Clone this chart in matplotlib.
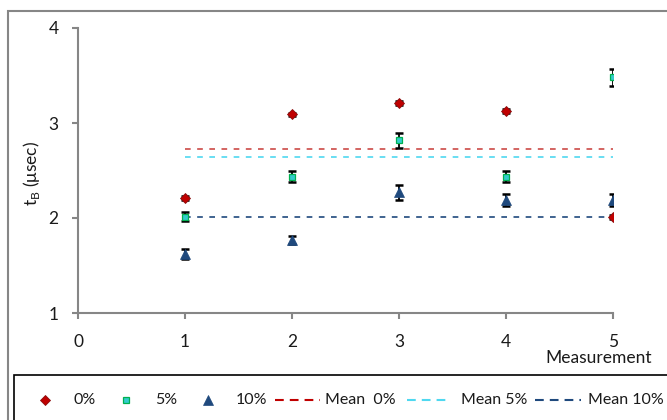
import matplotlib
matplotlib.use("Agg")
import matplotlib.pyplot as plt
from matplotlib.lines import Line2D
from matplotlib.patches import Rectangle
import numpy as np

plt.rcParams['font.family'] = ['Lato', 'DejaVu Sans']
plt.rcParams['mathtext.fontset'] = 'custom'
plt.rcParams['mathtext.rm'] = 'Lato'

measurements = [1, 2, 3, 4, 5]
t0 = [2.21, 3.09, 3.21, 3.13, 2.01]
e0 = [0.02, 0.02, 0.02, 0.02, 0.02]
t5 = [2.015, 2.435, 2.82, 2.435, 3.48]
e5 = [0.05, 0.06, 0.08, 0.06, 0.09]
t10 = [1.62, 1.77, 2.27, 2.19, 2.19]
e10 = [0.05, 0.04, 0.08, 0.06, 0.06]
labels = ["0%", "5%", "10%", "Mean  0%", "Mean 5%", "Mean 10%"]
x_ticks = [0, 1, 2, 3, 4, 5]
y_ticks = [1, 2, 3, 4]

c0, c5, c10 = "#C00000", "#33CCCC", "#1F497D"
m0c, m5c, m10c = "#CC4A47", "#4FD8F0", "#1F497D"
spine_c = "#868686"
txt_c = "#1A1A1A"
W, H = 667, 420

fig = plt.figure(figsize=(6.67, 4.20), dpi=100)
ax = fig.add_axes([78/W, 1-313/H, (613-78)/W, (313-28)/H])

# error bars
for y, e in [(t0, e0), (t5, e5), (t10, e10)]:
    ax.errorbar(measurements, y, yerr=e, fmt='none', ecolor='black',
                elinewidth=1.3, capsize=3, capthick=1.8, zorder=3)

# means
for y, c in [(t0, m0c), (t5, m5c), (t10, m10c)]:
    m = np.mean(y)
    ax.plot([measurements[0], measurements[-1]], [m, m], color=c,
            lw=1.2, dashes=(3.4, 3.9), zorder=2)

mk0 = dict(marker='D', ms=5.5, color=c0, mec="#8A1010", mew=0.6)
mk5 = dict(marker='s', ms=4.8, color=c5, mec="#00B050", mew=0.9)
mk10 = dict(marker='^', ms=7.3, color=c10, mec=c10, mew=0.5)
ax.plot(measurements, t0, linestyle='none', zorder=4, **mk0)
ax.plot(measurements, t5, linestyle='none', zorder=4, **mk5)
ax.plot(measurements, t10, linestyle='none', zorder=4, **mk10)

ax.set_xlim(0, 5)
ax.set_ylim(1, 4)
ax.set_xticks(x_ticks)
ax.set_yticks(y_ticks)
for s in ['top', 'right']:
    ax.spines[s].set_visible(False)
for s in ['left', 'bottom']:
    ax.spines[s].set_color(spine_c)
    ax.spines[s].set_linewidth(1.5)
ax.tick_params(axis='both', colors=spine_c, labelcolor=txt_c,
               labelsize=12.5, length=4, width=1.5, direction='out')
ax.tick_params(axis='x', pad=11)
ax.tick_params(axis='y', pad=10)

fig.text(32/W, 1-173/H, r"t$_\mathregular{B}$ (μsec)", rotation=90,
         ha='center', va='center', fontsize=12.5, color=txt_c)
fig.text(652/W, 1-358/H, "Measurement", ha='right', va='center',
         fontsize=12.5, color=txt_c)

# outer frame and legend box
fig.patches.append(Rectangle((8/W, -0.1), 1.2, (H-11)/H + 0.1,
                             transform=fig.transFigure, fill=False,
                             edgecolor=spine_c, lw=1.5, zorder=0))
fig.patches.append(Rectangle((14/W, -0.1), 1.2, (H-375)/H + 0.1,
                             transform=fig.transFigure, fill=False,
                             edgecolor='black', lw=1.2, zorder=0))

# legend (manually laid out like the original)
ly = 1 - 400/H
mk10_leg = dict(mk10, ms=6.5)
leg_handles = [
    ('m', mk0, (45,), 73),
    ('m', mk5, (126,), 155),
    ('m', mk10_leg, (208,), 236),
    ('l', c0, (275, 320), 325),
    ('l', m5c, (407, 451), 461),
    ('l', m10c, (535, 581), 588),
]
for (kind, sty, xs, tx), lab in zip(leg_handles, labels):
    if kind == 'm':
        fig.add_artist(Line2D([xs[0]/W], [ly], linestyle='none',
                              transform=fig.transFigure, **sty))
    else:
        fig.add_artist(Line2D([xs[0]/W, xs[1]/W], [ly, ly], color=sty,
                              lw=1.5, dashes=(4.2, 2.9),
                              transform=fig.transFigure))
    fig.text(tx/W, ly, lab, ha='left', va='center', fontsize=11.5,
             color=txt_c)

fig.savefig("out.png", dpi=100)
